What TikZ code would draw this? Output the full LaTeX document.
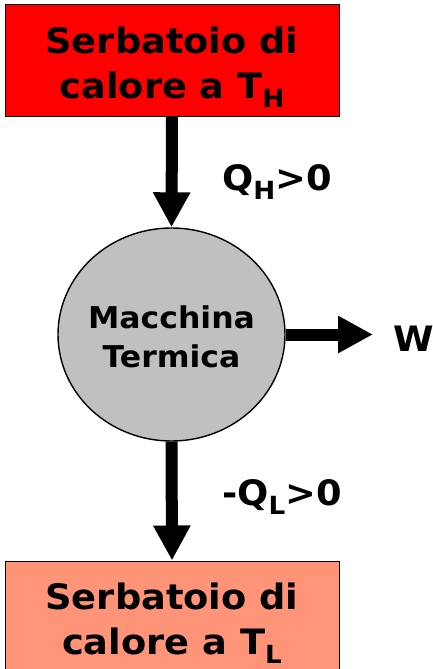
\documentclass[tikz,border=0pt]{standalone}
\usepackage{fontspec}
\setmainfont{DejaVu Sans}[FakeStretch=1.05]
\usetikzlibrary{arrows.meta,shapes.geometric}
\definecolor{hot}{RGB}{255,0,0}
\definecolor{cold}{RGB}{255,148,120}
\definecolor{eng}{RGB}{192,192,192}
\newcommand{\sbx}[1]{\raisebox{-0.26em}{\fontsize{25}{25}\selectfont #1}}
\begin{document}
\begin{tikzpicture}[x=1pt,y=-1pt,
  res/.style={draw=black, line width=1pt, minimum width=334pt, minimum height=111pt, inner sep=0pt},
  restext/.style={inner sep=0pt, align=center, font=\fontsize{35}{45}\selectfont\bfseries},
  engine/.style={ellipse, draw=black, line width=1.4pt, fill=eng, minimum width=227pt,
    minimum height=213pt, inner sep=0pt},
  engtext/.style={inner sep=0pt, align=center, font=\fontsize{30}{39}\selectfont\bfseries},
  flow/.style={line width=12pt, -{Triangle[width=35pt,length=35pt]}},
  lab/.style={anchor=base west, inner sep=0pt, font=\fontsize{35}{35}\selectfont\bfseries}]
\useasboundingbox (0,0) rectangle (433,669);
\node[res, fill=hot] (top) at (172,60.5) {};
\node[restext] (toptext) at (172,67) {Serbatoio di\\calore a T\sbx{H}};
\node[res, fill=cold] (bot) at (172,616.5) {};
\node[restext] (bottext) at (172,623) {Serbatoio di\\calore a T\sbx{L}};
\node[engine] (m) at (171.5,334.5) {};
\node[engtext] (mtext) at (171.5,337) {Macchina\\Termica};
\coordinate (wend) at (373,334.5);
\draw[flow] (top.south) -- (m.north);
\draw[flow] (m.south) -- (bot.north);
\draw[flow] (m.east) -- (wend);
\node[lab] (qh) at (222,190) {Q\sbx{H}>0};
\node[lab] (ql) at (222,505) {-Q\sbx{L}>0};
\node[lab] (w) at (393,351) {W};
\end{tikzpicture}
\end{document}
